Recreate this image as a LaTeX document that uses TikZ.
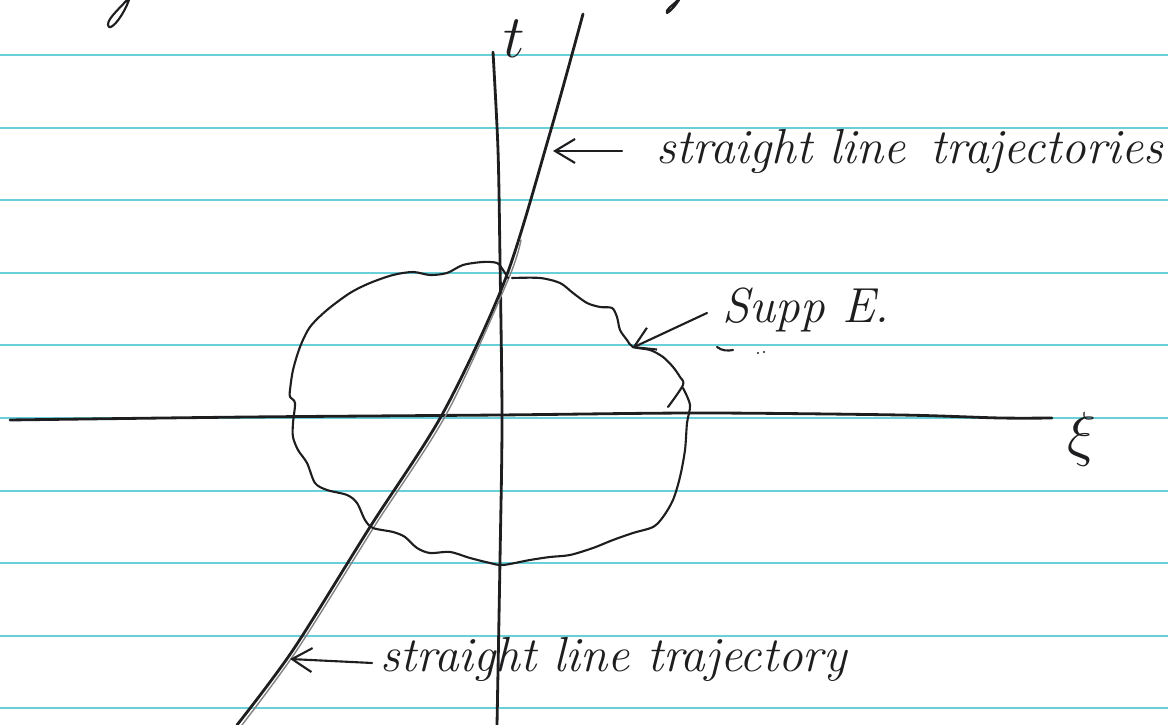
\documentclass[tikz,border=0pt]{standalone}
\usetikzlibrary{arrows.meta}
\definecolor{ruling}{RGB}{105,207,216}
\definecolor{pencil}{RGB}{30,30,32}

\begin{document}
\begin{tikzpicture}[x=0.1mm, y=-0.1mm, line cap=round, line join=round,
    ink/.style={draw=pencil, line width=0.8pt},
    thinink/.style={draw=pencil, line width=0.6pt},
    barb/.style={-{Straight Barb[length=2mm,width=2.4mm]}},
    hand/.style={text=pencil, font=\fontsize{14}{16}\selectfont\itshape, inner sep=0pt}]
    \useasboundingbox (0,0) rectangle (1168,725);

    % ruled paper
    \foreach \y in {55,128,200,273,345,418,491,563,636,708}
        \draw[ruling, line width=0.5pt] (0,\y) -- (1168,\y);

    % ends of letters from the line above
    \draw[thinink] (127,0) .. controls (118,10) and (104,22) .. (109,27) .. controls (113,29) and (124,14) .. (129,0);
    \draw[thinink] (678,0) .. controls (672,6) and (665,10) .. (667,13) .. controls (670,12) and (676,5) .. (679,0);

    % axes
    \draw[ink] plot[smooth] coordinates {(10,420) (250,417) (500,415) (700,413) (900,415) (1000,418) (1052,418)};
    \draw[ink] plot[smooth] coordinates {(493,52) (498,150) (500,260) (502,420) (500,560) (497,725)};

    % the trajectory
    \draw[ink] plot[smooth] coordinates {(583,14) (550,133) (505,280) (443,413) (370,527) (293,650) (237,725)};
    \draw[pencil!55, line width=0.4pt] plot[smooth] coordinates {(521,240) (508,280) (447,413) (374,527) (297,650) (242,725)};

    % support of E
    \draw[thinink] plot[smooth] coordinates {(512,278) (540,278) (560,283) (573,293) (587,303) (600,307) (612,308)
        (617,317) (620,330) (627,340) (633,347) (650,350) (663,357) (673,367) (680,377) (683,385) (668,407)};
    \draw[thinink] plot[smooth] coordinates {(683,388) (690,405) (687,423) (685,450) (680,477) (673,500) (663,517)
        (653,527) (633,533) (613,540) (593,548) (570,555) (550,557) (530,560) (503,565) (490,563) (470,558)
        (450,552) (430,553) (417,548) (405,537) (393,532) (373,528) (365,520) (357,503) (347,495) (327,490)
        (315,483) (307,463) (298,450) (293,437) (293,423) (295,403) (290,397) (290,390) (293,370) (300,347)
        (310,327) (327,310) (350,293) (370,283) (393,275) (413,272) (430,275) (447,273) (463,265) (483,262)
        (497,263) (503,270) (508,278)};

    % labels
    \node[hand, anchor=base west] (topLabel) at (656,164) {straight line\hspace{0.5em}trajectories};
    \node[hand, anchor=base west] (bottomLabel) at (380,672) {straight line trajectory};
    \node[hand, anchor=base west] (suppLabel) at (722,323) {Supp E.};
    \node[text=pencil, font=\fontsize{18}{20}\selectfont, inner sep=0pt, anchor=base west] (tLabel) at (503,58) {$t$};
    \node[text=pencil, font=\fontsize{16}{18}\selectfont, inner sep=0pt] (xiLabel) at (1082,439) {$\xi$};

    % pointers
    \coordinate (tailTop) at (622,151);
    \coordinate (tipTop) at (553,151);
    \coordinate (tailBottom) at (372,663);
    \coordinate (tipBottom) at (290,659);
    \coordinate (tailSupp) at (707,313);
    \coordinate (tipSupp) at (632,348);
    \draw[thinink, barb] (tailTop) -- (tipTop);
    \draw[thinink, barb] (tailBottom) -- (tipBottom);
    \draw[thinink, barb] (tailSupp) -- (tipSupp);

    % stray marks
    \draw[thinink] (717,347) .. controls (722,351) and (728,351) .. (733,350);
    \fill[pencil] (758,353) circle (1.2) (764,352) circle (1.2);
\end{tikzpicture}
\end{document}
